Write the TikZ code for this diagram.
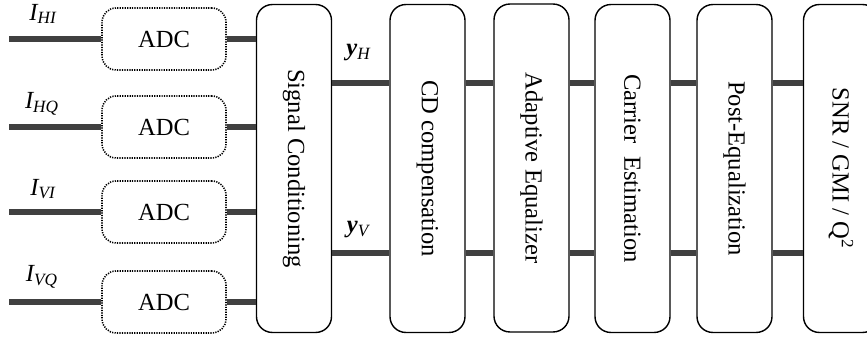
\documentclass[tikz,border=0pt]{standalone}
\usepackage{fontspec}
\setmainfont{Liberation Serif}
\newcommand{\wirecol}{black!75}
\newcommand{\boxh}{6.56cm}

\begin{document}
\begin{tikzpicture}[x=0.02cm, y=-0.02cm,
    wire/.style={draw=\wirecol, line width=3.2pt},
    adcbox/.style={draw, line width=0.9pt, dash pattern=on 0.7pt off 0.7pt, rounded corners=8pt, minimum width=2.48cm, minimum height=1.24cm, font=\fontsize{14}{16}\selectfont},
    dspbox/.style={draw, thick, rounded corners=9pt, minimum width=1.5cm, minimum height=\boxh, font=\fontsize{14}{16}\selectfont}]

    \useasboundingbox (0, 0) rectangle (867, 338);

    % converters
    \node[adcbox] (adc1) at (164, 39) {ADC};
    \node[adcbox] (adc2) at (164, 127) {ADC};
    \node[adcbox] (adc3) at (164, 212) {ADC};
    \node[adcbox] (adc4) at (164, 302) {ADC};

    \coordinate (in1) at (9, 39);
    \coordinate (in2) at (9, 127);
    \coordinate (in3) at (9, 212);
    \coordinate (in4) at (9, 302);

    \node[font=\fontsize{14}{16}\selectfont] (lhi) at (43, 14) {\textit{I\textsubscript{HI}}};
    \node[font=\fontsize{14}{16}\selectfont] (lhq) at (42, 104) {\textit{I\textsubscript{HQ}}};
    \node[font=\fontsize{14}{16}\selectfont] (lvi) at (43, 189) {\textit{I\textsubscript{VI}}};
    \node[font=\fontsize{14}{16}\selectfont] (lvq) at (42, 277) {\textit{I\textsubscript{VQ}}};

    % DSP chain
    \node[dspbox] (sc) at (294, 168.5) {\rotatebox{-90}{Signal Conditioning}};
    \node[dspbox] (cd) at (427.5, 168.5) {\rotatebox{-90}{CD compensation}};
    \node[dspbox] (ae) at (531.5, 168) {\rotatebox{-90}{Adaptive Equalizer}};
    \node[dspbox] (ce) at (632.5, 168.5) {\rotatebox{-90}{Carrier~~Estimation}};
    \node[dspbox] (pe) at (734.5, 168.5) {\rotatebox{-90}{Post-Equalization}};
    \node[dspbox] (snr) at (841, 168.5) {\rotatebox{-90}{SNR / GMI / Q\textsuperscript{2}}};

    \coordinate (rowH) at (0, 83);
    \coordinate (rowV) at (0, 253);

    \node[font=\fontsize{14}{16}\selectfont] (yh) at (359, 53) {\textbf{\textit{y}}\textsubscript{\textit{H}}};
    \node[font=\fontsize{14}{16}\selectfont] (yv) at (359, 230) {\textbf{\textit{y}}\textsubscript{\textit{V}}};

    \draw[wire] (in1) -- (adc1.west);
    \draw[wire] (in2) -- (adc2.west);
    \draw[wire] (in3) -- (adc3.west);
    \draw[wire] (in4) -- (adc4.west);

    \draw[wire] (adc1.east) -- (sc.west |- adc1.east);
    \draw[wire] (adc2.east) -- (sc.west |- adc2.east);
    \draw[wire] (adc3.east) -- (sc.west |- adc3.east);
    \draw[wire] (adc4.east) -- (sc.west |- adc4.east);

    \draw[wire] (sc.east |- rowH) -- (cd.west |- rowH);
    \draw[wire] (sc.east |- rowV) -- (cd.west |- rowV);
    \draw[wire] (cd.east |- rowH) -- (ae.west |- rowH);
    \draw[wire] (cd.east |- rowV) -- (ae.west |- rowV);
    \draw[wire] (ae.east |- rowH) -- (ce.west |- rowH);
    \draw[wire] (ae.east |- rowV) -- (ce.west |- rowV);
    \draw[wire] (ce.east |- rowH) -- (pe.west |- rowH);
    \draw[wire] (ce.east |- rowV) -- (pe.west |- rowV);
    \draw[wire] (pe.east |- rowH) -- (snr.west |- rowH);
    \draw[wire] (pe.east |- rowV) -- (snr.west |- rowV);

\end{tikzpicture}
\end{document}
